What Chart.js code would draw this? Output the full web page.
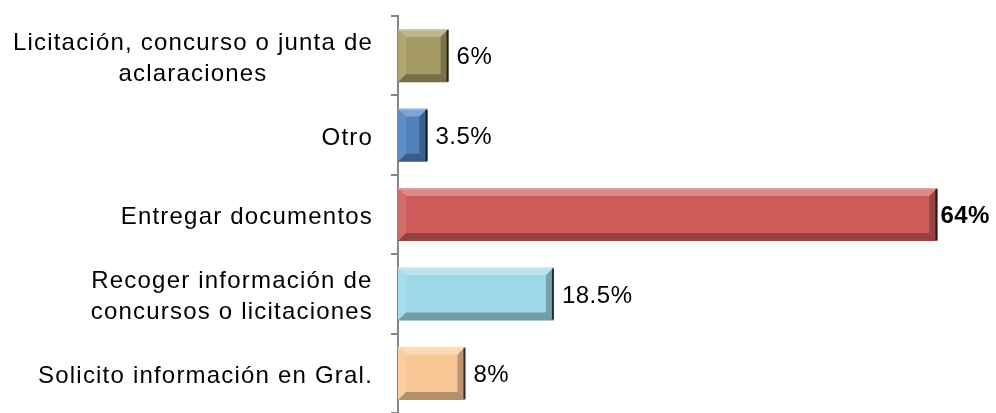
<!DOCTYPE html>
<html>
<head>
<meta charset="utf-8">
<script src="https://cdn.jsdelivr.net/npm/chart.js@4/dist/chart.umd.min.js"></script>
<style>
html,body{margin:0;padding:0;background:#fff;}
#wrap{width:996px;height:413px;position:relative;}
</style>
</head>
<body>
<div id="wrap"><canvas id="c" width="996" height="413"></canvas></div>
<script>
const categories = [
  ["Licitación, concurso o junta de", "aclaraciones"],
  ["Otro"],
  ["Entregar documentos"],
  ["Recoger información de", "concursos o licitaciones"],
  ["Solicito información en Gral."]
];
const values = [6, 3.5, 64, 18.5, 8];
const valueLabels = ["6%", "3.5%", "64%", "18.5%", "8%"];
const barColors = ["#A59B62", "#4F81BD", "#CD5B59", "#9DD8E9", "#FAC897"];
const boldLabel = [false, false, true, false, false];

const FONT = '"Liberation Sans", Arial, Helvetica, sans-serif';

const bevelPlugin = {
  id: 'bevel',
  afterDatasetsDraw(chart) {
    const ctx = chart.ctx;
    const meta = chart.getDatasetMeta(0);
    meta.data.forEach((bar) => {
      const p = bar.getProps(['x', 'y', 'base', 'height'], true);
      const l = Math.min(p.base, p.x), r = Math.max(p.base, p.x);
      const t = p.y - p.height / 2, b = p.y + p.height / 2;
      const bv = Math.min(8, (r - l) / 2);
      ctx.save();
      ctx.fillStyle = 'rgba(255,255,255,0.28)';
      ctx.beginPath(); ctx.moveTo(l, t); ctx.lineTo(r, t); ctx.lineTo(r - bv, t + bv); ctx.lineTo(l + bv, t + bv); ctx.closePath(); ctx.fill();
      ctx.fillStyle = 'rgba(255,255,255,0.10)';
      ctx.beginPath(); ctx.moveTo(l, t); ctx.lineTo(l + bv, t + bv); ctx.lineTo(l + bv, b - bv); ctx.lineTo(l, b); ctx.closePath(); ctx.fill();
      ctx.fillStyle = 'rgba(0,0,0,0.28)';
      ctx.beginPath(); ctx.moveTo(l, b); ctx.lineTo(r, b); ctx.lineTo(r - bv, b - bv); ctx.lineTo(l + bv, b - bv); ctx.closePath(); ctx.fill();
      ctx.fillStyle = 'rgba(0,0,0,0.25)';
      ctx.beginPath(); ctx.moveTo(r, t); ctx.lineTo(r, b); ctx.lineTo(r - bv, b - bv); ctx.lineTo(r - bv, t + bv); ctx.closePath(); ctx.fill();
      ctx.fillStyle = 'rgba(0,0,0,0.7)';
      ctx.fillRect(r - 2, t + 1, 2, p.height - 2);
      ctx.fillStyle = 'rgba(255,255,255,0.25)';
      ctx.fillRect(l, t, r - l, 1.5);
      ctx.restore();
    });
  },
  afterDraw(chart) {
    const ctx = chart.ctx;
    const yScale = chart.scales.y;
    const meta = chart.getDatasetMeta(0);
    ctx.save();
    ctx.fillStyle = '#000';
    ctx.textBaseline = 'middle';
    ctx.font = '24px ' + FONT;
    try { ctx.letterSpacing = '1.2px'; } catch (e) {}
    categories.forEach((lines, i) => {
      const cy = yScale.getPixelForValue(i) + 3;
      const lh = 31;
      const widths = lines.map(s => ctx.measureText(s).width);
      const maxW = Math.max.apply(null, widths);
      const cx = 373 - maxW / 2;
      ctx.textAlign = 'center';
      lines.forEach((s, k) => {
        const y = cy + (k - (lines.length - 1) / 2) * lh;
        ctx.fillText(s, cx, y);
      });
    });
    ctx.textAlign = 'left';
    try { ctx.letterSpacing = '0.5px'; } catch (e) {}
    meta.data.forEach((bar, i) => {
      ctx.font = (boldLabel[i] ? 'bold ' : '') + '24px ' + FONT;
      const off = boldLabel[i] ? 3 : 8;
      ctx.fillText(valueLabels[i], bar.x + off, bar.y + 2);
    });
    ctx.restore();
  }
};

new Chart(document.getElementById('c'), {
  type: 'bar',
  data: {
    labels: categories,
    datasets: [{
      data: values,
      backgroundColor: barColors,
      borderWidth: 0,
      categoryPercentage: 1,
      barPercentage: 0.67
    }]
  },
  options: {
    indexAxis: 'y',
    responsive: false,
    animation: false,
    devicePixelRatio: 1,
    layout: { padding: { top: 16, bottom: -3, left: 0, right: 8 } },
    plugins: { legend: { display: false }, tooltip: { enabled: false } },
    scales: {
      x: { display: false, min: 0, max: 70 },
      y: {
        afterFit(scale) { scale.width = 398; },
        ticks: { display: false },
        grid: { drawOnChartArea: false, drawTicks: true, tickLength: 7, color: '#868686', lineWidth: 2, offset: true },
        border: { display: true, color: '#868686', width: 2 }
      }
    }
  },
  plugins: [bevelPlugin]
});
</script>
</body>
</html>
